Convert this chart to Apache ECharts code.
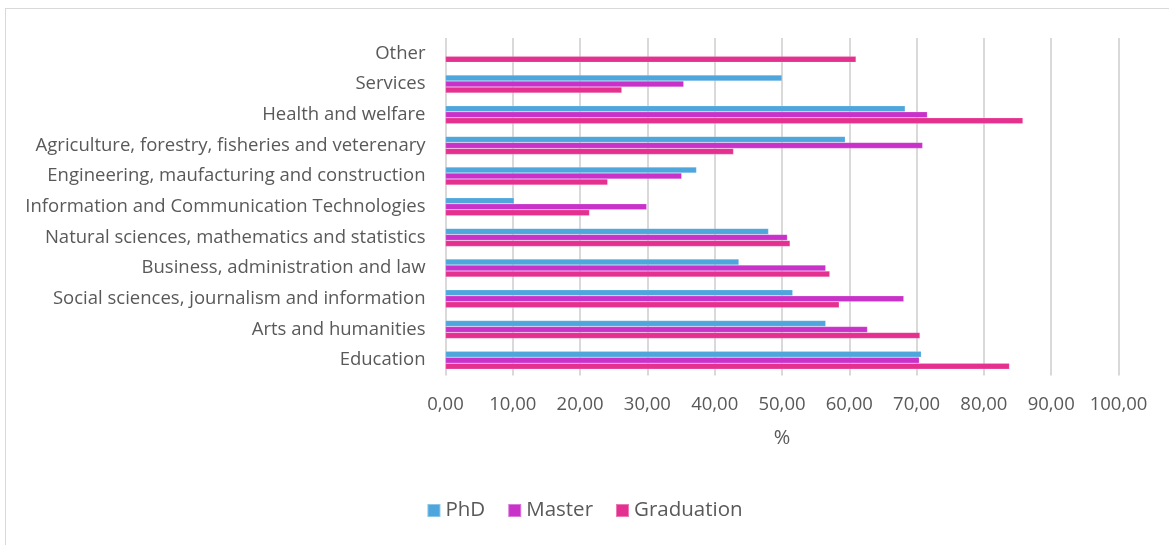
<!DOCTYPE html>
<html><head><meta charset="utf-8">
<script src="https://cdn.jsdelivr.net/npm/echarts@6/dist/echarts.min.js"></script>
<style>
html,body{margin:0;padding:0;background:#fff;}
#frame{position:absolute;left:5px;top:8px;width:1170px;height:545px;border:1.5px solid #d9d9d9;box-sizing:border-box;}
#chart{position:absolute;left:0;top:0;width:1169px;height:545px;}
</style></head>
<body>
<div id="frame"></div>
<div id="chart"></div>
<script>
const categories = ["Education","Arts and humanities","Social sciences, journalism and information","Business, administration and law","Natural sciences, mathematics and statistics","Information and Communication Technologies","Engineering, maufacturing and construction","Agriculture, forestry, fisheries and veterenary","Health and welfare","Services","Other"];
const phd = [70.7, 56.5, 51.6, 43.6, 48.0, 10.2, 37.3, 59.4, 68.3, 50.0, null];
const master = [70.4, 62.7, 68.1, 56.5, 50.8, 29.9, 35.1, 70.9, 71.6, 35.4, null];
const graduation = [83.8, 70.5, 58.5, 57.1, 51.2, 21.4, 24.1, 42.8, 85.8, 26.2, 61.0];
const seriesNames = ["PhD","Master","Graduation"];
const colors = ["#4EA6DC","#C832C9","#E4308F"];

const chart = echarts.init(document.getElementById('chart'), null, {renderer:'canvas'});
const font = "'Open Sans', 'Noto Sans', sans-serif";
const mk = (name, data, i) => ({
  name, type:'bar', data, barWidth:6, barGap:'0%',
  itemStyle:{color:colors[i], borderColor:'rgba(255,255,255,0.35)', borderWidth:0.5},
  emphasis:{disabled:true}
});
chart.setOption({
  animation:false,
  textStyle:{fontFamily:font},
  grid:{left:445.5, right:50.5, top:38, bottom:169.5, containLabel:false},
  legend:{
    data:seriesNames, bottom:19, left:'center', itemWidth:13, itemHeight:13, itemGap:22,
    icon:'rect', textStyle:{fontSize:20.5, color:'#595959', fontFamily:font}
  },
  xAxis:{
    type:'value', min:0, max:100, interval:10,
    name:'%', nameLocation:'middle', nameGap:53,
    nameTextStyle:{fontSize:20, color:'#595959', fontFamily:font},
    axisLabel:{fontSize:18.5, color:'#595959', margin:20, fontFamily:font,
      formatter:v=>v.toFixed(2).replace('.',',')},
    axisLine:{show:false}, axisTick:{show:false},
    splitLine:{show:true, lineStyle:{color:'#d9d9d9', width:2}}
  },
  yAxis:{
    type:'category', data:categories,
    axisLabel:{fontSize:18.5, color:'#595959', margin:20, fontFamily:font},
    axisLine:{show:false}, axisTick:{show:false}, splitLine:{show:false}
  },
  series:[mk(seriesNames[0], phd, 0), mk(seriesNames[1], master, 1), mk(seriesNames[2], graduation, 2)]
});
</script>
</body></html>
